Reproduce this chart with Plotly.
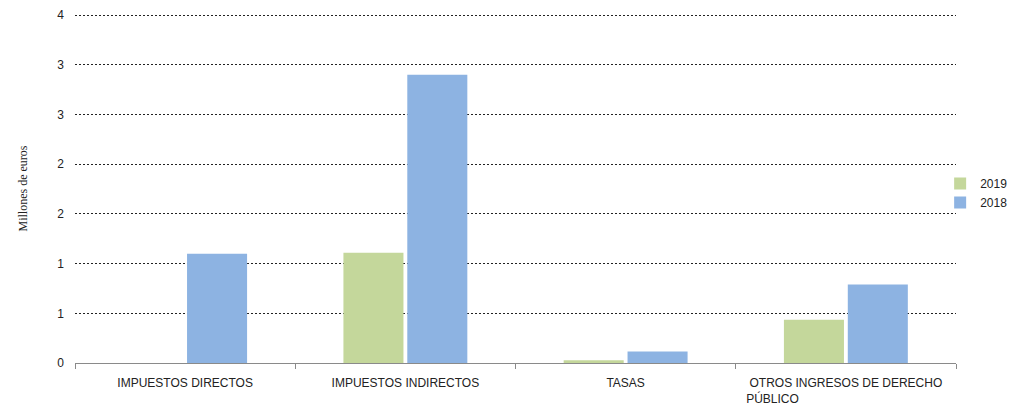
import plotly.graph_objects as go

categories = ["IMPUESTOS DIRECTOS", "IMPUESTOS INDIRECTOS", "TASAS",
              "OTROS INGRESOS DE DERECHO PÚBLICO"]
tick_labels = ["IMPUESTOS DIRECTOS", "IMPUESTOS INDIRECTOS", "TASAS",
               "OTROS INGRESOS DE DERECHO<br>PÚBLICO" + "\u00a0" * 44]
values_2019 = [0.0, 1.11, 0.027, 0.434]
values_2018 = [1.10, 2.90, 0.116, 0.79]
y_tickvals = [0, 0.5, 1, 1.5, 2, 2.5, 3, 3.5]
y_ticktext = ["0", "1", "1", "2", "2", "3", "3", "4"]

fig = go.Figure()
fig.add_trace(go.Bar(x=categories, y=values_2019, name="2019",
                     marker=dict(color="#C4D79B", line=dict(width=0))))
fig.add_trace(go.Bar(x=categories, y=values_2018, name="2018",
                     marker=dict(color="#8DB3E2", line=dict(width=0))))

# page body has an 8px margin; figure sized to fit the 1017x410 window
fig.update_layout(
    width=1009, height=402,
    margin=dict(l=67, r=61, t=6, b=47, autoexpand=False),
    paper_bgcolor="white", plot_bgcolor="white",
    barmode="group", bargap=0.42, bargroupgap=0.06,
    font=dict(family="Liberation Sans, Arial", size=12, color="#222222"),
    showlegend=True,
    legend=dict(x=0.982, xanchor="left", y=0.487, yanchor="middle",
                font=dict(size=12, color="#222222"), traceorder="normal",
                itemwidth=30, bgcolor="rgba(0,0,0,0)"),
)
fig.update_xaxes(
    type="category", categoryorder="array", categoryarray=categories,
    tickvals=categories, ticktext=tick_labels,
    showline=True, linecolor="#8a8a8a", linewidth=1,
    ticks="outside", tickson="boundaries", ticklen=5, tickcolor="#8a8a8a",
    ticklabelstandoff=9,
    showgrid=False, tickfont=dict(size=12, color="#222222"),
)
fig.update_yaxes(
    range=[0, 3.511], tickvals=y_tickvals, ticktext=y_ticktext,
    showgrid=True, gridcolor="#222222", gridwidth=1, griddash="2px,2px",
    zeroline=False, showline=False, ticks="", ticklabelstandoff=10,
    ticklabeloverflow="allow",
    tickfont=dict(size=12, color="#222222"),
    title=dict(text="Millones de euros", standoff=27,
               font=dict(family="Liberation Serif, Times New Roman", size=12,
                         color="#222222")),
)

fig.write_html("out.html")
